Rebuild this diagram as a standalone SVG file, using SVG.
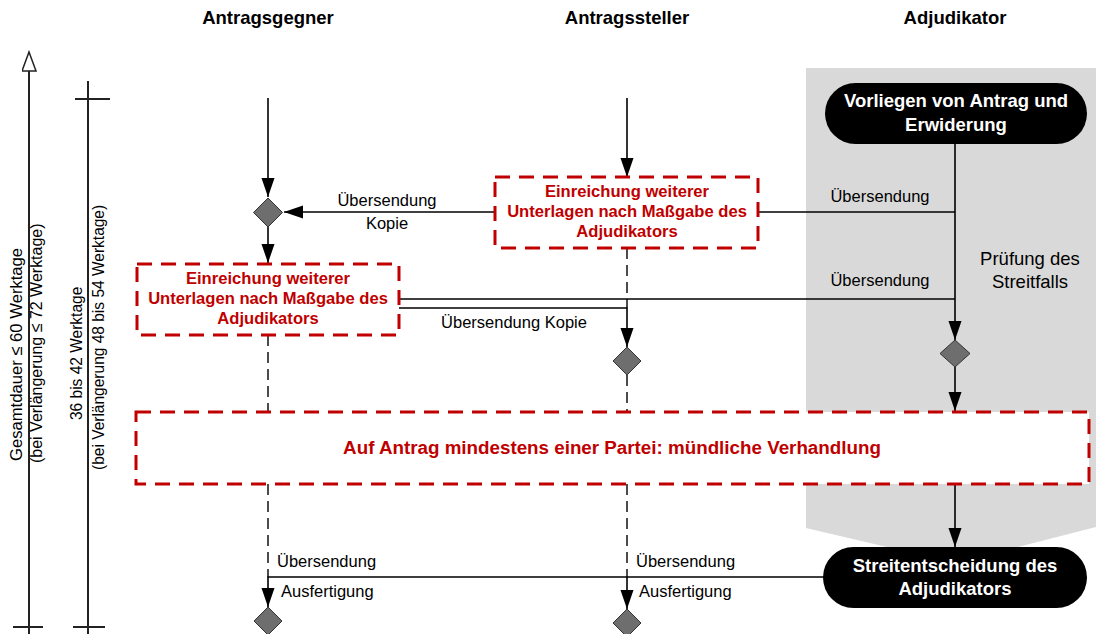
<svg xmlns="http://www.w3.org/2000/svg" width="1096" height="634" viewBox="0 0 1096 634">
<defs>
<marker id="arr" markerUnits="userSpaceOnUse" markerWidth="20" markerHeight="14" refX="19" refY="6.5" orient="auto">
<path d="M0,0 L19,6.5 L0,13 z" fill="#000"/>
</marker>
<marker id="open" markerUnits="userSpaceOnUse" markerWidth="22" markerHeight="16" refX="20" refY="7.5" orient="auto">
<path d="M1,0.5 L20,7.5 L1,14.5 z" fill="#fff" stroke="#222" stroke-width="1.5"/>
</marker>
</defs>
<style>
text{font-family:"Liberation Sans",Arial,sans-serif;}
.hdr{font-size:18.5px;font-weight:bold;fill:#000;text-anchor:middle;}
.lbl{font-size:16.5px;fill:#000;}
.ax{font-size:16px;fill:#000;}
.red{font-size:16.6px;font-weight:bold;fill:#c00000;text-anchor:middle;}
.redbox{fill:#fff;stroke:#c00000;stroke-width:3;stroke-dasharray:15 9;}
.pill{fill:#000;}
.wt{font-size:18.5px;font-weight:bold;fill:#fff;text-anchor:middle;}
.dia{fill:#6e6e6e;stroke:#333;stroke-width:1;}
.ln{fill:none;stroke:#000;stroke-width:1.6;}
.dash{fill:none;stroke:#000;stroke-width:1.4;stroke-dasharray:11 6;}
.axis{fill:none;stroke:#222;stroke-width:2;}
</style>

<polygon id="lane-bg" points="806,68 1096,68 1096,527 955,563 806,528" fill="#d9d9d9"/>

<g id="headers">
<text class="hdr" x="268" y="24">Antragsgegner</text>
<text class="hdr" x="627" y="24">Antragssteller</text>
<text class="hdr" x="955" y="24">Adjudikator</text>
</g>

<g id="axes">
<line class="axis" x1="29" y1="634" x2="29" y2="52" marker-end="url(#open)"/>
<line class="axis" x1="13" y1="627" x2="43" y2="627"/>
<line class="axis" x1="88" y1="81" x2="88" y2="634"/>
<line class="axis" x1="75" y1="99" x2="110" y2="99"/>
<line class="axis" x1="73" y1="627" x2="105" y2="627"/>
<text class="ax" transform="translate(22,461) rotate(-90) scale(1.04,1.08)">Gesamtdauer ≤ 60 Werktage</text>
<text class="ax" transform="translate(41.5,463) rotate(-90) scale(1,1.08)">(bei Verlängerung ≤ 72 Werktage)</text>
<text class="ax" transform="translate(82,420) rotate(-90) scale(0.97,1.08)">36 bis 42 Werktage</text>
<text class="ax" transform="translate(104,470) rotate(-90) scale(0.97,1.08)">(bei Verlängerung 48 bis 54 Werktage)</text>
</g>

<g id="connectors">
<path class="ln" d="M268,98 V197" marker-end="url(#arr)"/>
<path class="ln" d="M494,212 H284" marker-end="url(#arr)"/>
<path class="ln" d="M268,227 V263" marker-end="url(#arr)"/>
<path class="dash" d="M268,335 V412"/>
<path class="dash" d="M268,484 V577"/>
<path class="ln" d="M825,577 H268 V607" marker-end="url(#arr)"/>
<path class="ln" d="M627,98 V177" marker-end="url(#arr)"/>
<path class="dash" d="M627,248 V308"/>
<path class="ln" d="M399,308 H627 V347" marker-end="url(#arr)"/>
<path class="dash" d="M627,375 V412"/>
<path class="dash" d="M627,484 V577"/>
<path class="ln" d="M627,577 V609" marker-end="url(#arr)"/>
<path class="ln" d="M758,212 H955"/>
<path class="ln" d="M399,299 H955"/>
<path class="ln" d="M955,144 V340" marker-end="url(#arr)"/>
<path class="ln" d="M955,367 V411" marker-end="url(#arr)"/>
<path class="ln" d="M955,484 V547" marker-end="url(#arr)"/>
<text class="lbl" x="387" y="206" text-anchor="middle">Übersendung</text>
<text class="lbl" x="387" y="229" text-anchor="middle">Kopie</text>
<text class="lbl" x="514" y="328" text-anchor="middle">Übersendung Kopie</text>
<text class="lbl" x="880" y="202" text-anchor="middle">Übersendung</text>
<text class="lbl" x="880" y="286" text-anchor="middle">Übersendung</text>
<text class="lbl" x="277" y="567">Übersendung</text>
<text class="lbl" x="281" y="597">Ausfertigung</text>
<text class="lbl" x="636" y="567">Übersendung</text>
<text class="lbl" x="639" y="597">Ausfertigung</text>
</g>

<g id="n-vorliegen">
<rect class="pill" x="825" y="83" width="262" height="61" rx="30.5"/>
<text class="wt" x="956" y="107">Vorliegen von Antrag und</text>
<text class="wt" x="956" y="131">Erwiderung</text>
</g>

<g id="n-pruefung">
<text class="lbl" x="1030" y="265" text-anchor="middle" style="font-size:18.5px">Prüfung des</text>
<text class="lbl" x="1030" y="288" text-anchor="middle" style="font-size:18.5px">Streitfalls</text>
</g>

<g id="n-einreichung-steller">
<rect class="redbox" x="495" y="177" width="263" height="71"/>
<text class="red" x="627" y="197">Einreichung weiterer</text>
<text class="red" x="627" y="217">Unterlagen nach Maßgabe des</text>
<text class="red" x="627" y="237">Adjudikators</text>
</g>

<g id="n-einreichung-gegner">
<rect class="redbox" x="137" y="264" width="262" height="71"/>
<text class="red" x="268" y="284">Einreichung weiterer</text>
<text class="red" x="268" y="304">Unterlagen nach Maßgabe des</text>
<text class="red" x="268" y="324">Adjudikators</text>
</g>

<g id="n-dia1"><polygon class="dia" points="268,198 282.5,212.5 268,227 253.5,212.5"/></g>
<g id="n-dia2"><polygon class="dia" points="627,347 641,361 627,375 613,361"/></g>
<g id="n-dia3"><polygon class="dia" points="955,340 970,353.5 955,367 940,353.5"/></g>
<g id="n-dia4"><polygon class="dia" points="268,607 282,621 268,635 254,621"/></g>
<g id="n-dia5"><polygon class="dia" points="627,609 641,623 627,637 613,623"/></g>

<g id="n-verhandlung">
<rect class="redbox" x="136" y="412" width="953" height="72"/>
<text class="red" x="612" y="454" style="font-size:18.8px">Auf Antrag mindestens einer Partei: mündliche Verhandlung</text>
</g>

<g id="n-streitentscheidung">
<rect class="pill" x="823" y="547" width="264" height="61" rx="30.5"/>
<text class="wt" x="955" y="572">Streitentscheidung des</text>
<text class="wt" x="955" y="595">Adjudikators</text>
</g>
</svg>
